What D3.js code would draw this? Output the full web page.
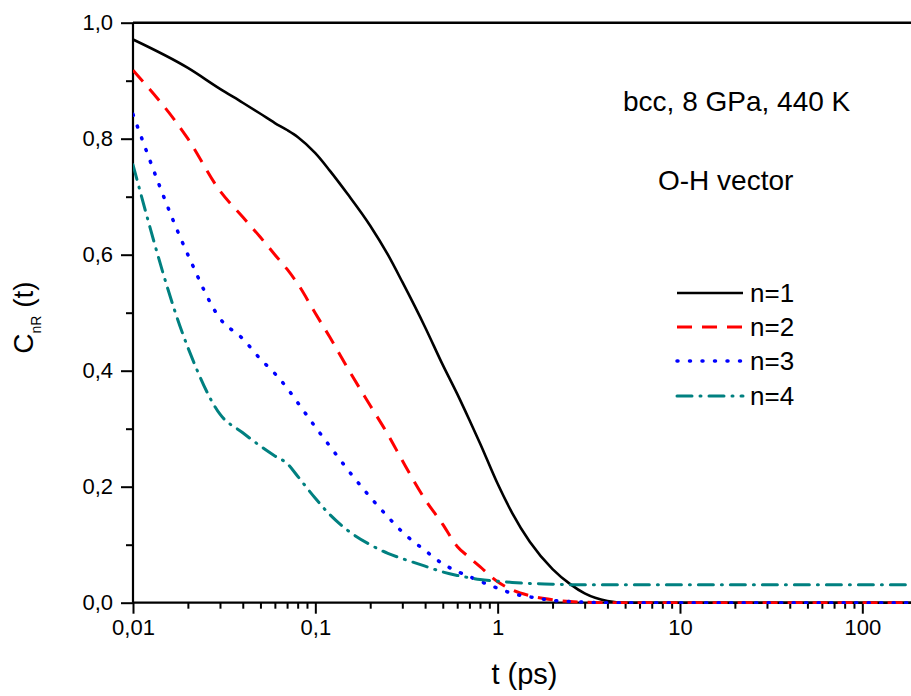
<!DOCTYPE html>
<html><head><meta charset="utf-8">
<script src="https://cdn.jsdelivr.net/npm/d3@7"></script>
<style>body{margin:0;background:#fff}svg{display:block}text{font-family:Arial,"Liberation Sans",sans-serif;fill:#000}</style>
</head><body><svg id="c" width="911" height="696"></svg>
<script>
const times = [0.01,0.02,0.03,0.04,0.05,0.06,0.07,0.08,0.1,0.12,0.15,0.2,0.25,0.3,0.4,0.5,0.6,0.7,0.8,1,1.2,1.5,2,2.5,3,4,5,7,10,20,50,100,200];
const n1 = [0.971,0.922,0.886,0.862,0.843,0.827,0.815,0.803,0.775,0.745,0.705,0.65,0.6,0.553,0.475,0.41,0.36,0.315,0.275,0.205,0.155,0.105,0.058,0.032,0.016,0.003,0,0,0,0,0,0,0];
const n2 = [0.918,0.8,0.71,0.665,0.63,0.6,0.575,0.55,0.499,0.458,0.405,0.34,0.29,0.245,0.178,0.135,0.097,0.078,0.062,0.036,0.022,0.012,0.005,0.002,0.001,0,0,0,0,0,0,0,0];
const n3 = [0.842,0.6,0.49,0.455,0.42,0.395,0.37,0.345,0.303,0.27,0.23,0.182,0.148,0.122,0.09,0.067,0.054,0.045,0.037,0.025,0.016,0.01,0.004,0.002,0.001,0,0,0,0,0,0,0,0];
const n4 = [0.755,0.44,0.325,0.293,0.27,0.253,0.24,0.218,0.18,0.152,0.125,0.1,0.085,0.076,0.063,0.053,0.047,0.043,0.04,0.037,0.035,0.033,0.032,0.031,0.031,0.031,0.031,0.031,0.031,0.031,0.031,0.031,0.031];
const seriesNames = ["n=1","n=2","n=3","n=4"];
const seriesColors = ["#000000","#ff0000","#0000ff","#008080"];
const xTickValues = [0.01,0.1,1,10,100];
const xTickLabels = ["0,01","0,1","1","10","100"];
const yTickValues = [0,0.2,0.4,0.6,0.8,1.0];
const yTickLabels = ["0,0","0,2","0,4","0,6","0,8","1,0"];
const xLabel = "t (ps)";
const annot1 = "bcc, 8 GPa, 440 K";
const annot2 = "O-H vector";

const seriesValues = [n1,n2,n3,n4];
const dashes = [null,"15,10","1,11.5","15,8,1,8"];
const caps = ["butt","butt","round","round"];
const widths = [2.6,3,3.5,3];

const svg = d3.select("#c");
const x = d3.scaleLog().domain([0.01,200]).range([133,917.2]);
const y = d3.scaleLinear().domain([0,1]).range([602.7,22.7]);

// minor ticks x
const minorX = [];
[0.01,0.1,1,10,100].forEach(d=>{for(let k=2;k<=9;k++){const v=d*k; if(v<=200) minorX.push(v);}});
svg.append("g").attr("transform","translate(0,602.7)")
  .call(d3.axisBottom(x).tickValues(minorX).tickSize(6).tickFormat(""))
  .call(g=>{g.select(".domain").remove(); g.selectAll("line").attr("stroke-width",2);});
const gx = svg.append("g").attr("transform","translate(0,602.7)")
  .call(d3.axisBottom(x).tickValues(xTickValues).tickSize(11).tickPadding(6).tickFormat((d,i)=>xTickLabels[i]));
gx.select(".domain").attr("stroke-width",2.2).attr("d","M133,0H911");
gx.selectAll("line").attr("stroke-width",2);
gx.selectAll("text").attr("font-size",22).style("font-family","Arial, 'Liberation Sans', sans-serif");

const minorY = [0.1,0.3,0.5,0.7,0.9];
svg.append("g").attr("transform","translate(133,0)")
  .call(d3.axisLeft(y).tickValues(minorY).tickSize(7).tickFormat(""))
  .call(g=>{g.select(".domain").remove(); g.selectAll("line").attr("stroke-width",2);});
const gy = svg.append("g").attr("transform","translate(133,0)")
  .call(d3.axisLeft(y).tickValues(yTickValues).tickSize(12).tickPadding(8).tickFormat((d,i)=>yTickLabels[i]));
gy.select(".domain").attr("stroke-width",2.2).attr("d","M0,602.7V22.7");
gy.selectAll("line").attr("stroke-width",2);
gy.selectAll("text").attr("font-size",22).style("font-family","Arial, 'Liberation Sans', sans-serif");

// top frame
svg.append("line").attr("x1",x(0.01)).attr("x2",911).attr("y1",y(1)).attr("y2",y(1)).attr("stroke","#000").attr("stroke-width",2.4);

svg.append("clipPath").attr("id","cp").append("rect").attr("x",133).attr("y",22).attr("width",800).attr("height",582);
const line = d3.line().x(d=>x(d[0])).y(d=>y(d[1])).curve(d3.curveMonotoneX);
seriesValues.forEach((vals,i)=>{
  svg.append("path").attr("clip-path","url(#cp)")
    .datum(times.map((t,j)=>[t,vals[j]]))
    .attr("d",line).attr("fill","none").attr("stroke",seriesColors[i])
    .attr("stroke-width",widths[i]).attr("stroke-dasharray",dashes[i]).attr("stroke-linecap",caps[i]).attr("stroke-linejoin","round");
});

// legend
const legY = [293,327,361,396];
seriesNames.forEach((n,i)=>{
  svg.append("line").attr("x1",677).attr("x2",743).attr("y1",legY[i]).attr("y2",legY[i])
    .attr("stroke",seriesColors[i]).attr("stroke-width",widths[i]).attr("stroke-dasharray",dashes[i]).attr("stroke-linecap",caps[i]);
  svg.append("text").attr("x",750).attr("y",legY[i]+9).attr("font-size",26).text(n);
});

svg.append("text").attr("x",623).attr("y",111).attr("font-size",28).text(annot1);
svg.append("text").attr("x",658).attr("y",190).attr("font-size",28).text(annot2);
svg.append("text").attr("x",524.5).attr("y",684).attr("text-anchor","middle").attr("font-size",29).text(xLabel);

const yl = svg.append("text").attr("transform","translate(33,317.5) rotate(-90)").attr("text-anchor","middle").attr("font-size",28);
yl.append("tspan").text("C");
yl.append("tspan").attr("font-size",14).attr("dy",8).text("nR");
yl.append("tspan").attr("dy",-8).text(" (t)");
</script></body></html>
